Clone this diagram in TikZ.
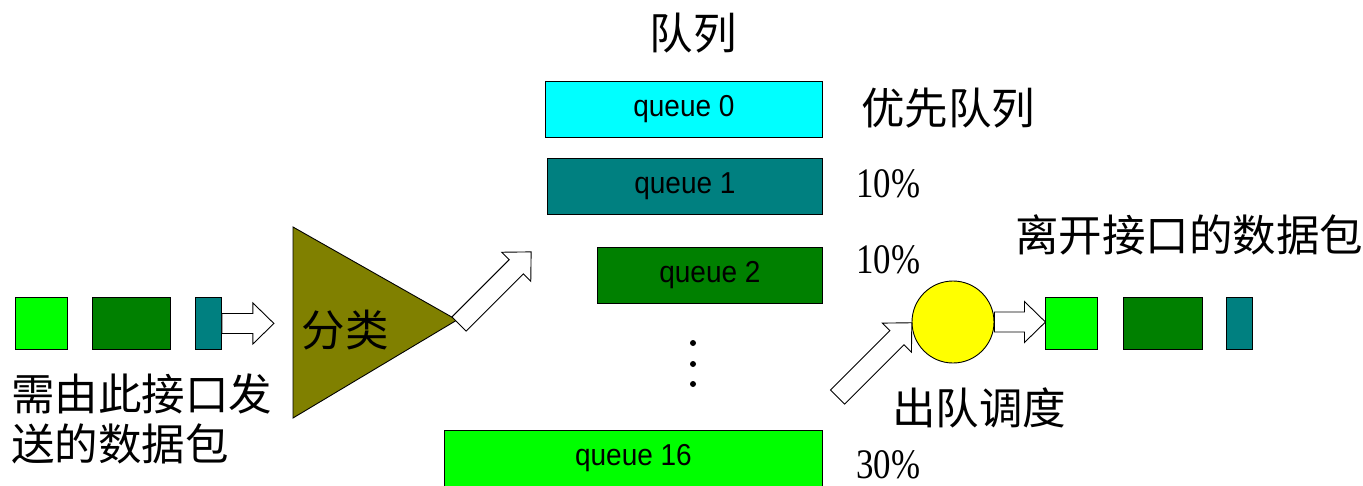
\documentclass[tikz,border=0pt]{standalone}
\usepackage{fontspec}
\setmainfont{Liberation Serif}
\setsansfont{Liberation Sans}
\newfontfamily\cjk{Noto Sans CJK SC}
\usetikzlibrary{calc}

\definecolor{qcyan}{RGB}{0,255,255}
\definecolor{qteal}{RGB}{0,128,128}
\definecolor{qgreen}{RGB}{0,128,0}
\definecolor{qlime}{RGB}{0,255,0}
\definecolor{qolive}{RGB}{128,128,0}
\definecolor{qyellow}{RGB}{255,255,0}

\begin{document}
\begin{tikzpicture}[x=1pt,y=-1pt,
  outline/.style={draw=black, line width=0.9pt},
  qbox/.style={outline, inner sep=0, anchor=north west, minimum height=56,
    font=\sffamily\fontsize{28}{28}\selectfont},
  pkt/.style={outline, inner sep=0, anchor=north west, minimum height=52},
  cjklabel/.style={inner sep=0, anchor=west, font=\cjk\fontsize{43.5}{43.5}\selectfont},
  pct/.style={inner sep=0, anchor=west, font=\rmfamily\fontsize{42}{42}\selectfont},
  dot/.style={circle, fill=black, inner sep=0, minimum size=6},
  pics/fatarrow/.style={code={
    \draw[outline, fill=white, line join=miter]
      (0,-10) -- (#1-21,-10) -- (#1-21,-20.5) -- (#1,0) -- (#1-21,20.5)
      -- (#1-21,10) -- (0,10) -- cycle;
  }}]
\useasboundingbox (0,0) rectangle (1363,485);

% incoming packets
\node[pkt, fill=qlime,  minimum width=52] (p1) at (15,297) {};
\node[pkt, fill=qgreen, minimum width=78] (p2) at (92,297) {};
\node[pkt, fill=qteal,  minimum width=26] (p3) at (195,297) {};
\node[cjklabel] (inlbl1) at (11,394) {需由此接口发};
\node[cjklabel] (inlbl2) at (11,444) {送的数据包};

% classifier
\coordinate (ta) at (293,227);
\coordinate (tb) at (293,418);
\coordinate (tip) at (457,320);
\draw[outline, fill=qolive] (ta) -- (tip) -- (tb) -- cycle;
\node[cjklabel, anchor=center] (cls) at (345,330) {分类};

\pic at (p3.east) {fatarrow=52};
\pic[rotate=45] at ($(tip)+(2,4)$) {fatarrow=102};

% queues
\node[cjklabel, anchor=center] (qtitle) at (693,33) {队列};
\node[qbox, fill=qcyan,  minimum width=277] (q0)  at (545,81)  {\scalebox{1}[1.08]{queue 0}};
\node[qbox, fill=qteal,  minimum width=275] (q1)  at (547,158) {\scalebox{1}[1.08]{queue 1}};
\node[qbox, fill=qgreen, minimum width=225] (q2)  at (597,247) {\scalebox{1}[1.08]{queue 2}};
\node[qbox, fill=qlime,  minimum width=378] (q16) at (444,430) {\scalebox{1}[1.08]{queue 16}};
\node[dot] (d1) at (693,343) {};
\node[dot] (d2) at (693,364) {};
\node[dot] (d3) at (693,384) {};

\node[cjklabel] (prio) at (861,108) {优先队列};
\node[pct] (w1)  at (856,184) {\scalebox{0.83}[1]{10\%}};
\node[pct] (w2)  at (856,260) {\scalebox{0.83}[1]{10\%}};
\node[pct] (w16) at (856,465) {\scalebox{0.83}[1]{30\%}};

% scheduler
\node[outline, circle, fill=qyellow, minimum size=82, inner sep=0] (sched) at (953,322) {};
\node[cjklabel] (schedlbl) at (892,408) {出队调度};
\pic[rotate=45] at ($(sched.west)+(-74,75)$) {fatarrow=105};
\pic at (sched.east) {fatarrow=51};

% outgoing packets
\node[pkt, fill=qlime,  minimum width=52] (r1) at (1045,297) {};
\node[pkt, fill=qgreen, minimum width=79] (r2) at (1123,297) {};
\node[pkt, fill=qteal,  minimum width=26] (r3) at (1226,297) {};
\node[cjklabel] (outlbl) at (1015,235) {离开接口的数据包};
\end{tikzpicture}
\end{document}
